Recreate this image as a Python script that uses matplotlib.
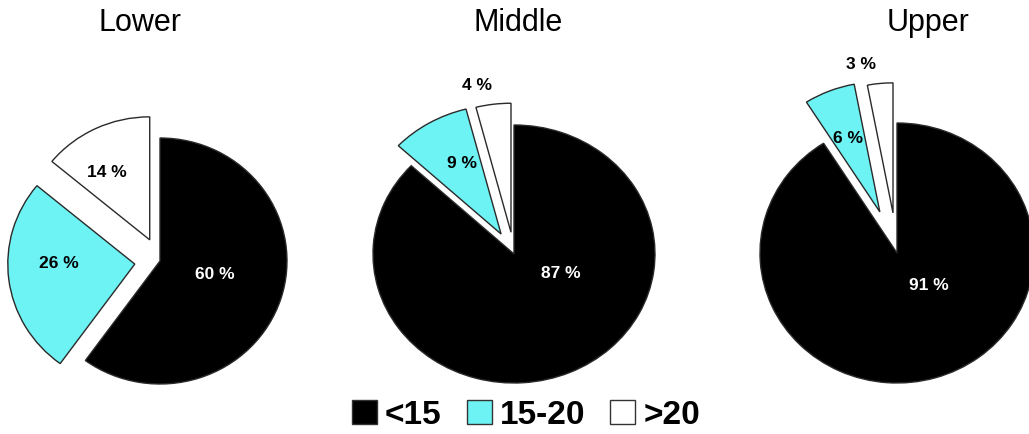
#!/usr/bin/env python3
"""Three exploded pies (Lower / Middle / Upper) with a shared legend."""

import matplotlib
matplotlib.use("Agg")
import matplotlib.pyplot as plt
from matplotlib.patches import Patch

plt.rcParams["font.family"] = ["Liberation Sans", "DejaVu Sans"]

# data
GROUPS     = ["Lower", "Middle", "Upper"]
CATEGORIES = ["<15", "15-20", ">20"]
LOWER_PCT  = [60, 26, 14]
MIDDLE_PCT = [87, 9, 4]
UPPER_PCT  = [91, 6, 3]

COLORS = ["#000000", "#6EF3F5", "#FFFFFF"]
LABEL_COLORS = ["white", "black", "black"]

W, H, DPI = 1029, 434, 100

# layout per pie: centre (px from left/top), radii (px), explode, label spots (radius units)
LAYOUT = [
    dict(c=(160, 261), r=(127, 123), explode=[0, 0.20, 0.19],
         lab=[(0.43, -0.11), (-0.80, -0.02), (-0.42, 0.72)], title=(140, 23)),
    dict(c=(514, 254), r=(141, 129), explode=[0, 0.18, 0.17],
         lab=[(0.33, -0.15), (-0.37, 0.70), (-0.26, 1.31)], title=(518, 23)),
    dict(c=(897, 253), r=(137, 130), explode=[0, 0.34, 0.31],
         lab=[(0.23, -0.25), (-0.36, 0.88), (-0.26, 1.45)], title=(928, 23)),
]


def draw_pie(fig, values, lay, title):
    cx, cy = lay["c"]
    rx, ry = lay["r"]
    s = 1.6
    ax = fig.add_axes([(cx - s * rx) / W, (H - cy - s * ry) / H,
                       2 * s * rx / W, 2 * s * ry / H])
    ax.pie(values, colors=COLORS, startangle=90, counterclock=False,
           explode=lay["explode"],
           wedgeprops=dict(edgecolor="#2a2a2a", linewidth=1.0))
    ax.set_aspect("auto")
    ax.set_xlim(-s, s)
    ax.set_ylim(-s, s)
    ax.axis("off")
    for v, (lx, ly), col in zip(values, lay["lab"], LABEL_COLORS):
        ax.text(lx, ly, f"{v} %", ha="center", va="center",
                fontsize=12.5, fontweight="bold", color=col)
    tx, ty = lay["title"]
    fig.text(tx / W, 1 - ty / H, title, ha="center", va="center", fontsize=22)


fig = plt.figure(figsize=(W / DPI, H / DPI), dpi=DPI)

for vals, lay, name in zip([LOWER_PCT, MIDDLE_PCT, UPPER_PCT], LAYOUT, GROUPS):
    draw_pie(fig, vals, lay, name)

handles = [Patch(facecolor=c, edgecolor="#333333", linewidth=1.0, label=l)
           for c, l in zip(COLORS, CATEGORIES)]
fig.legend(handles=handles, loc="center", ncol=3, frameon=False,
           bbox_to_anchor=(526 / W, 1 - 415 / H),
           prop=dict(weight="bold", size=24),
           handlelength=0.75, handleheight=0.75,
           handletextpad=0.25, columnspacing=0.75)

fig.savefig("out.png", dpi=DPI)
plt.close(fig)
